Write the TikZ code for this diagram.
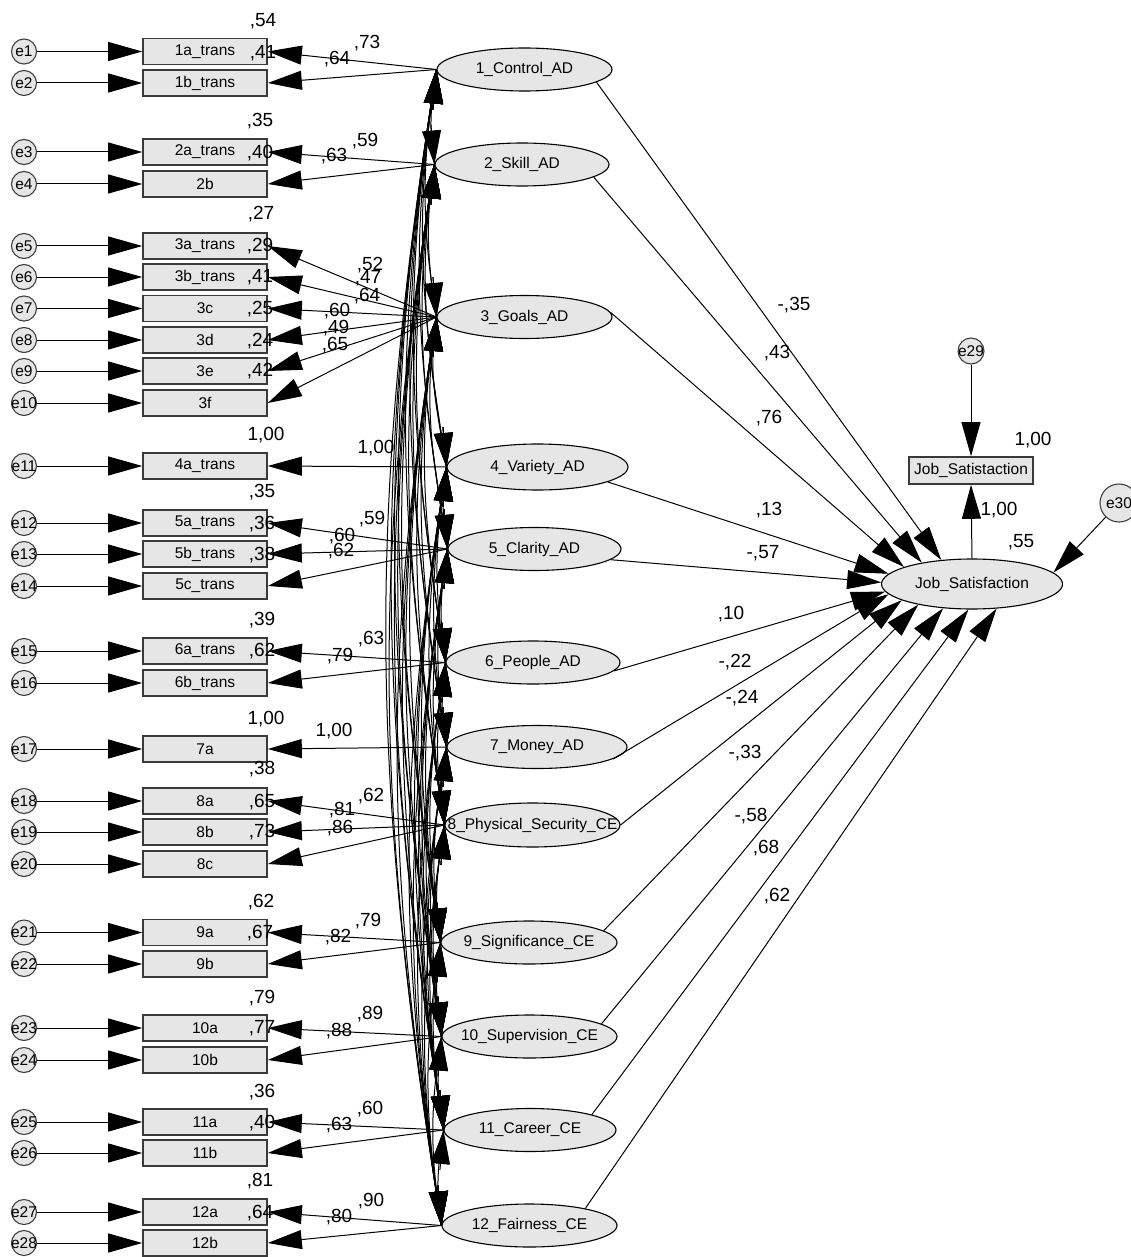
\documentclass[tikz,border=0pt]{standalone}
\usepackage{fontspec}
\setmainfont{Liberation Sans}
\usetikzlibrary{arrows.meta,shapes.geometric}
\definecolor{nodefill}{HTML}{E6E6E6}
\definecolor{boxline}{HTML}{3A3A3A}
\tikzset{
  semtip/.tip={Triangle[length=34pt,width=19pt]},
  obs/.style={draw=boxline, line width=1.6pt, fill=nodefill, minimum width=124pt,
    minimum height=26pt, inner sep=0pt, font=\fontsize{15.5}{18}\selectfont},
  lat/.style={ellipse, draw=black, line width=1.1pt, fill=nodefill, inner sep=0pt,
    font=\fontsize{15.5}{18}\selectfont},
  err/.style={circle, draw=black!75, line width=1.1pt, fill=nodefill, minimum size=25pt,
    inner sep=0pt, font=\fontsize{15.5}{18}\selectfont},
  coef/.style={inner sep=0pt, font=\fontsize{19}{22}\selectfont},
  conn/.style={draw=black, line width=1pt, -semtip},
  cov/.style={draw=black, line width=1pt},
}
\begin{document}
\begin{tikzpicture}[x=1pt,y=-1pt]
\clip (0,0) rectangle (1131,1257);
\fill[white] (0,0) rectangle (1131,1257);

% observed indicators with their error terms
\foreach \nm/\y/\t [count=\k] in {
  1a/51.5/1a\_trans, 1b/83/1b\_trans, 2a/152/2a\_trans, 2b/184/2b,
  3a/246/3a\_trans, 3b/277/3b\_trans, 3c/308.5/3c, 3d/340/3d, 3e/371/3e, 3f/403/3f,
  4a/466/4a\_trans, 5a/523/5a\_trans, 5b/554/5b\_trans, 5c/586/5c\_trans,
  6a/651/6a\_trans, 6b/683/6b\_trans, 7a/749/7a, 8a/801/8a, 8b/832/8b, 8c/864/8c,
  9a/932.5/9a, 9b/964/9b, 10a/1028/10a, 10b/1060/10b, 11a/1122/11a, 11b/1153/11b,
  12a/1212/12a, 12b/1243/12b}{
  \node[obs] (b\nm) at (205,\y) {\makebox[0pt]{\t}};
  \node[err] (e\k) at (24,\y) {\makebox[0pt]{e\k}};
}

% latent factors
\foreach \k/\x/\y/\w/\h/\t in {
  1/524.5/69.5/175/43/1\_Control\_AD,
  2/522/164.5/174/43/2\_Skill\_AD,
  3/524.5/317/175/43/3\_Goals\_AD,
  4/537.5/467/181/46/4\_Variety\_AD,
  5/534.5/549/173/43/5\_Clarity\_AD,
  6/533/662.5/174/43/6\_People\_AD,
  7/537/747/180/43/7\_Money\_AD,
  8/532.5/825/175/44/8\_Physical\_Security\_CE,
  9/529/942.5/176/43/9\_Significance\_CE,
  10/529.5/1036.5/175/43/10\_Supervision\_CE,
  11/530/1130/172/43/11\_Career\_CE,
  12/529.5/1225.5/175/43/12\_Fairness\_CE}{
  \node[lat, minimum width=\w pt, minimum height=\h pt] (c\k) at (\x,\y) {\makebox[0pt]{\t}};
}

% outcome
\node[lat, minimum width=181pt, minimum height=50pt] (js) at (972,584) {\makebox[0pt]{Job\_Satisfaction}};
\node[obs, minimum height=27pt] (jsbox) at (971,470.5) {\makebox[0pt]{Job\_Satistaction}};
\node[err, minimum size=26pt] (e29) at (971,351) {\makebox[0pt]{e29}};
\node[err, minimum size=38pt] (e30) at (1119,503) {\makebox[0pt]{e30}};

% estimates
\foreach \x/\y/\t [count=\k] in {
  263/21/{,54}, 263/53/{,41}, 337/59/{,64}, 367/43/{,73},
  260/121/{,35}, 260/153/{,40}, 334/156/{,63}, 365/141/{,59},
  261/214/{,27}, 260/246/{,29}, 260/277/{,41}, 260/309/{,25}, 260/341/{,24}, 260/371/{,42},
  370/265/{,52}, 368/278/{,47}, 367/296/{,64}, 337/311/{,60}, 336/328/{,49}, 335/345/{,65},
  266/435/{1,00}, 376/448/{1,00},
  262/492/{,35}, 262/524/{,36}, 262/555/{,38}, 372/519/{,59}, 342/536/{,60}, 341/551/{,62},
  262/620/{,39}, 262/651/{,62}, 340/656/{,79}, 371/639/{,63},
  266/719/{1,00}, 334/731/{1,00},
  262/769/{,38}, 262/802/{,65}, 262/832/{,73}, 342/810/{,81}, 371/796/{,62}, 340/828/{,86},
  261/902/{,62}, 260/933/{,67}, 338/937/{,82}, 368/921/{,79},
  262/998/{,79}, 262/1028/{,77}, 339/1031/{,88}, 370/1014/{,89},
  262/1092/{,36}, 262/1123/{,40}, 339/1125/{,63}, 370/1109/{,60},
  260/1181/{,81}, 260/1213/{,64}, 339/1217/{,80}, 371/1201/{,90},
  794/305/{-,35}, 777/353/{,43}, 769/418/{,76}, 769/510/{,13}, 763/553/{-,57},
  731/614/{,10}, 735/662/{-,22}, 742/698/{-,24}, 745/753/{-,33}, 751/816/{-,58},
  766/848/{,68}, 777/896/{,62},
  1033/440/{1,00}, 999/510/{1,00}, 1021/542/{,55}}{
  \node[coef] (est\k) at (\x,\y) {\t};
}

% error terms into indicators
\foreach \nm [count=\k] in {1a,1b,2a,2b,3a,3b,3c,3d,3e,3f,4a,5a,5b,5c,6a,6b,7a,8a,8b,8c,9a,9b,10a,10b,11a,11b,12a,12b}{
  \draw[conn] (e\k.east) -- (b\nm.west);
}

% factor covariances: arcs bulging to the left, heads drawn along the end tangents
\def\facy{{69.5,164.5,317,467,549,662.5,747,825,942.5,1036.5,1130,1225.5}}
\foreach \i [evaluate=\i as \n using int(\i+1)] in {1,...,11}{
  \foreach \j in {\n,...,12}{
    \pgfmathsetmacro\len{\facy[\j-1]-\facy[\i-1]}
    \pgfmathsetmacro\sx{0.3915*\len*sin(9)}
    \pgfmathsetmacro\sy{0.3915*\len*cos(9)}
    \draw[cov] (c\i.west) .. controls ([shift={(-\sx,\sy)}]c\i.west)
      and ([shift={(-\sx,-\sy)}]c\j.west) .. (c\j.west);
    \draw[conn] ([shift={(-3.5,39.8)}]c\i.west) -- (c\i.west);
    \draw[conn] ([shift={(-3.5,-39.8)}]c\j.west) -- (c\j.west);
  }
}

% factor loadings
\foreach \c/\b in {1/1a,1/1b,2/2a,2/2b,3/3a,3/3b,3/3c,3/3d,3/3e,3/3f,4/4a,5/5a,5/5b,5/5c,
  6/6a,6/6b,7/7a,8/8a,8/8b,8/8c,9/9a,9/9b,10/10a,10/10b,11/11a,11/11b,12/12a,12/12b}{
  \draw[conn] (c\c.west) -- (b\b.east);
}

% structural paths
\foreach \k/\a/\b in {1/-10/142, 2/-10/157, 3/3/166, 4/-12/173, 5/-8/179, 6/-6/185,
  7/-9/187, 8/0/193, 9/9/201, 10/10/220, 11/14/262, 12/17/315}{
  \draw[conn] (c\k.\a) -- (js.\b);
}

\draw[conn] (e29) -- (jsbox);
\draw[conn] (js.north) -- (jsbox.south);
\draw[conn] (e30) -- (js.8);
\end{tikzpicture}
\end{document}
